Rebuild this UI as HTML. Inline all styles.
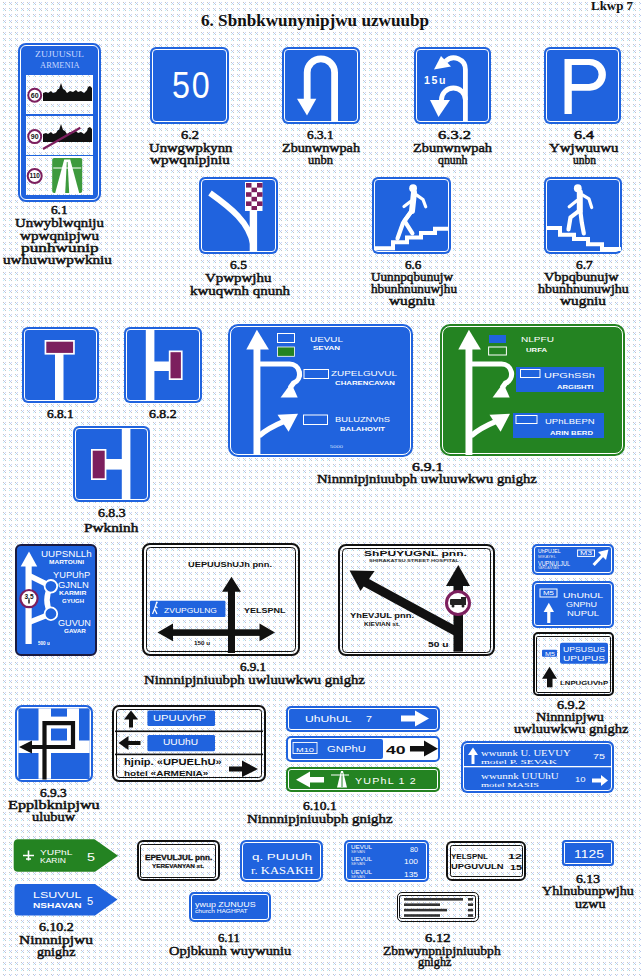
<!DOCTYPE html>
<html><head><meta charset="utf-8"><title>signs</title><style>
html,body{margin:0;padding:0;background:#fff;overflow:hidden;width:641px;height:976px;}
#pg{position:relative;width:641px;height:976px;overflow:hidden;background:#fff;}
.a{position:absolute;}
.t{position:absolute;white-space:nowrap;line-height:1;transform-origin:0 0;}
#t0{transform:scaleX(1.2113)}
#t1{transform:scaleX(1.0604)}
#t2{transform:scaleX(0.8596)}
#t3{transform:scaleX(1.0582)}
#t4{transform:scaleX(1.4137)}
#t5{transform:scaleX(1.3344)}
#t6{transform:scaleX(1.4137)}
#t7{transform:scaleX(1.3008)}
#t8{transform:scaleX(1.3338)}
#t9{transform:scaleX(1.2857)}
#t10{transform:scaleX(1.4596)}
#t11{transform:scaleX(1.4334)}
#t12{transform:scaleX(1.2849)}
#t13{transform:scaleX(1.5791)}
#t14{transform:scaleX(1.2660)}
#t15{transform:scaleX(1.3560)}
#t16{transform:scaleX(1.2896)}
#t17{transform:scaleX(1.1562)}
#t18{transform:scaleX(1.1846)}
#t19{transform:scaleX(1.0907)}
#t20{transform:scaleX(1.1085)}
#t21{transform:scaleX(1.2455)}
#t22{transform:scaleX(1.0906)}
#t23{transform:scaleX(1.0716)}
#t24{transform:scaleX(1.1498)}
#t25{transform:scaleX(0.9143)}
#t26{transform:scaleX(1.2367)}
#t27{transform:scaleX(1.0643)}
#t28{transform:scaleX(1.2881)}
#t29{transform:scaleX(1.3894)}
#t30{transform:scaleX(1.6070)}
#t31{transform:scaleX(1.6107)}
#t32{transform:scaleX(1.1643)}
#t33{transform:scaleX(1.1862)}
#t34{transform:scaleX(1.3586)}
#t35{transform:scaleX(0.9356)}
#t36{transform:scaleX(1.4066)}
#t37{transform:scaleX(0.8435)}
#t38{transform:scaleX(1.1352)}
#t39{transform:scaleX(1.5706)}
#t40{transform:scaleX(1.3184)}
#t41{transform:scaleX(1.3975)}
#t42{transform:scaleX(1.2850)}
#t43{transform:scaleX(1.3483)}
#t44{transform:scaleX(1.3088)}
#t45{transform:scaleX(1.2410)}
#t46{transform:scaleX(1.4390)}
#t47{transform:scaleX(1.2995)}
#t48{transform:scaleX(1.2466)}
#t49{transform:scaleX(1.1285)}
#t50{transform:scaleX(1.3106)}
#t51{transform:scaleX(1.2477)}
#t52{transform:scaleX(1.3472)}
#t53{transform:scaleX(1.1963)}
#t54{transform:scaleX(1.5422)}
#t55{transform:scaleX(1.2574)}
#t56{transform:scaleX(1.6000)}
#t57{transform:scaleX(1.1877)}
#t58{transform:scaleX(1.3323)}
#t59{transform:scaleX(1.6257)}
#t60{transform:scaleX(1.3474)}
#t61{transform:scaleX(1.3728)}
#t62{transform:scaleX(1.4836)}
#t63{transform:scaleX(1.3595)}
#t64{transform:scaleX(1.3633)}
#t65{transform:scaleX(1.3082)}
#t66{transform:scaleX(1.4382)}
#t67{transform:scaleX(1.3851)}
#t68{transform:scaleX(1.2638)}
#t69{transform:scaleX(1.1146)}
#t70{transform:scaleX(1.0847)}
#t71{transform:scaleX(1.0535)}
#t72{transform:scaleX(1.4809)}
#t73{transform:scaleX(1.2618)}
#t74{transform:scaleX(1.3753)}
#t75{transform:scaleX(1.2006)}
#t76{transform:scaleX(1.3985)}
#t77{transform:scaleX(1.2059)}
#t78{transform:scaleX(1.3985)}
#t79{transform:scaleX(1.2059)}
#t80{transform:scaleX(1.3985)}
#t81{transform:scaleX(1.2059)}
#t82{transform:scaleX(0.9588)}
#t83{transform:scaleX(1.1186)}
#t84{transform:scaleX(1.1186)}
#t85{transform:scaleX(1.0696)}
#t86{transform:scaleX(1.6779)}
#t87{transform:scaleX(1.1695)}
#t88{transform:scaleX(1.4382)}
#t89{transform:scaleX(1.3234)}
#t90{transform:scaleX(1.0378)}
#t91{transform:scaleX(1.1255)}
#t92{transform:scaleX(1.1478)}
#t93{transform:scaleX(1.0975)}
#t94{transform:scaleX(1.1220)}
#t95{transform:scaleX(1.2790)}
#t96{transform:scaleX(1.1256)}
#t97{transform:scaleX(1.2591)}
#t98{transform:scaleX(1.0902)}
#t99{transform:scaleX(1.1184)}
#t100{transform:scaleX(1.1522)}
#t101{transform:scaleX(1.0505)}
#t102{transform:scaleX(0.9259)}
#t103{transform:scaleX(1.4391)}
#t104{transform:scaleX(1.0640)}
#t105{transform:scaleX(0.8711)}
#t106{transform:scaleX(1.3843)}
#t107{transform:scaleX(1.1032)}
#t108{transform:scaleX(0.8519)}
#t109{transform:scaleX(1.1757)}
#t110{transform:scaleX(1.1067)}
#t111{transform:scaleX(1.1076)}
#t112{transform:scaleX(1.1409)}
#t113{transform:scaleX(0.9762)}
#t114{transform:scaleX(0.9801)}
#t115{transform:scaleX(1.1358)}
#t116{transform:scaleX(1.1617)}
#t117{transform:scaleX(1.0596)}
#t118{transform:scaleX(1.0348)}
#t119{transform:scaleX(1.1358)}
#t120{transform:scaleX(1.1565)}
#t121{transform:scaleX(1.2000)}
#t122{transform:scaleX(1.2000)}
#t123{transform:scaleX(1.1330)}
#t124{transform:scaleX(1.3565)}
#t125{transform:scaleX(1.0854)}
#t126{transform:scaleX(1.1348)}
#t127{transform:scaleX(1.0909)}
#t128{transform:scaleX(1.1652)}
#t129{transform:scaleX(1.1987)}
#t130{transform:scaleX(1.0642)}
#t131{transform:scaleX(1.1722)}
#t132{transform:scaleX(1.0992)}
#t133{transform:scaleX(1.2261)}
#t134{transform:scaleX(1.0525)}
#t135{transform:scaleX(1.0713)}
#t136{transform:scaleX(1.2070)}
#t137{transform:scaleX(1.1470)}
#t138{transform:scaleX(1.0449)}
#t139{transform:scaleX(1.1064)}
#t140{transform:scaleX(1.0693)}
#t141{transform:scaleX(1.2621)}
#t142{transform:scaleX(1.0060)}
#t143{transform:scaleX(0.9116)}
#t144{transform:scaleX(1.1925)}
#t145{transform:scaleX(1.0462)}
#t146{transform:scaleX(1.0462)}
</style></head>
<body><div id="pg"><svg class="a" style="left:0;top:0" width="641" height="976"><defs><pattern id="dp" width="6" height="6" patternUnits="userSpaceOnUse" x="1" y="0"><rect x="2" y="2" width="1" height="1" fill="#c4c4c4"/><rect x="4" y="2" width="1" height="1" fill="#c8d8ff"/><rect x="3" y="3" width="1" height="1" fill="#b8c8f0"/><rect x="2" y="4" width="1" height="1" fill="#c0f4ff"/><rect x="4" y="4" width="1" height="1" fill="#c4c4c4"/></pattern><pattern id="dp2" width="12" height="12" patternUnits="userSpaceOnUse" x="1" y="0"><rect x="9" y="8" width="1" height="1" fill="#c4c4c4"/><rect x="3" y="14" width="1" height="1" fill="#c4c4c4"/></pattern></defs><rect width="641" height="976" fill="url(#dp)"/></svg>
<div class="a" style="left:18px;top:43px;width:83px;height:159px;background:#2063de;border-radius:8px"></div>
<div class="a" style="left:20px;top:45px;width:79px;height:155px;border:1px solid #fff;border-radius:6px;box-sizing:border-box"></div>
<div class="a" style="left:26px;top:75px;width:67px;height:120px;background:#fff"></div>
<svg class="a" style="left:0;top:0" width="641" height="976"><rect x="26" y="75" width="67" height="120" fill="url(#dp)"/></svg>
<div class="a" style="left:26px;top:114px;width:67px;height:1.5px;background:#2063de"></div>
<div class="a" style="left:26px;top:154.5px;width:67px;height:1.5px;background:#2063de"></div>
<div class="t" id="t0" style="left:35px;top:51.30px;font-family:'Liberation Serif', serif;font-size:8px;font-weight:normal;color:#c8d8ff;letter-spacing:0px;">ZUJUUSUL</div>
<div class="t" id="t1" style="left:40px;top:61.50px;font-family:'Liberation Serif', serif;font-size:8px;font-weight:normal;color:#c8d8ff;letter-spacing:0px;">ARMENIA</div>
<svg class="a" style="left:18px;top:43px" width="83" height="159" viewBox="0 0 83 159"><circle cx="16.7" cy="52.2" r="6.5" fill="#fff" stroke="#7c1f5e" stroke-width="2"/><text x="16.7" y="54.720000000000006" font-family="Liberation Sans" font-weight="bold" font-size="7" text-anchor="middle" fill="#111">60</text><g transform="translate(25,44)"><path d="M0,6 L3,5 L5,6 L8,4 L10,6 L13,5 L15,2 L16,2 L17,-1 L18,-4 L19,-1 L20,2 L22,3 L24,6 L27,4 L30,5 L33,3 L35,5 L38,4 L41,6 L44,3 L45,0 L47,-1 L49,1 L49,14 L0,14 Z" fill="#111"/></g><circle cx="16.7" cy="93.6" r="6.5" fill="#fff" stroke="#7c1f5e" stroke-width="2"/><text x="16.7" y="96.11999999999999" font-family="Liberation Sans" font-weight="bold" font-size="7" text-anchor="middle" fill="#111">90</text><g transform="translate(25,85)"><path d="M0,6 L3,5 L5,6 L8,4 L10,6 L13,5 L15,2 L16,2 L17,-1 L18,-4 L19,-1 L20,2 L22,3 L24,6 L27,4 L30,5 L33,3 L35,5 L38,4 L41,6 L44,3 L45,0 L47,-1 L49,1 L49,14 L0,14 Z" fill="#111"/></g><line x1="25" y1="106" x2="62.3" y2="84.7" stroke="#7c1f5e" stroke-width="2.2"/><circle cx="16.7" cy="133" r="7" fill="#fff" stroke="#7c1f5e" stroke-width="2"/><text x="16.7" y="135.34" font-family="Liberation Sans" font-weight="bold" font-size="6.5" text-anchor="middle" fill="#111">110</text><g transform="translate(34.2,115)"><rect x="0" y="0" width="30" height="35" rx="2" fill="#3d9a3d"/><path d="M12,1.5 L18,1.5 L27,35 L3,35 Z" fill="#fff"/><path d="M14.6,4 L15.4,4 L17,35 L13,35 Z" fill="#3d9a3d"/><rect x="1" y="9.5" width="28" height="1" fill="#fff"/></g></svg>
<div class="a" style="left:150px;top:47px;width:79px;height:77px;background:#2063de;border-radius:6px"></div>
<div class="a" style="left:152px;top:49px;width:75px;height:73px;border:1px solid #fff;border-radius:4px;box-sizing:border-box"></div>
<div class="t" id="t2" style="left:171.7px;top:67.46px;font-family:'Liberation Sans', sans-serif;font-size:37.5px;font-weight:normal;color:#fff;letter-spacing:2px;">50</div>
<div class="a" style="left:282px;top:47px;width:78px;height:77px;background:#2063de;border-radius:6px"></div>
<div class="a" style="left:284px;top:49px;width:74px;height:73px;border:1px solid #fff;border-radius:4px;box-sizing:border-box"></div>
<svg class="a" style="left:282px;top:47px" width="78" height="77" viewBox="0 0 78 77"><path d="M52.6,75 V25.5 A13.7,13.7 0 0 0 25.2,25.5 V53" fill="none" stroke="#fff" stroke-width="6.8"/><polygon points="15,51.7 34.3,51.7 25,68.5" fill="#fff"/></svg>
<div class="a" style="left:414px;top:47px;width:77px;height:77px;background:#2063de;border-radius:6px"></div>
<div class="a" style="left:416px;top:49px;width:73px;height:73px;border:1px solid #fff;border-radius:4px;box-sizing:border-box"></div>
<svg class="a" style="left:414px;top:47px" width="77" height="77" viewBox="0 0 77 77"><path d="M51.4,75 V22.5 A11.6,11.6 0 0 0 31.6,14.3" fill="none" stroke="#fff" stroke-width="4.8"/><polygon points="20,22.5 27,9 37,19.5" fill="#fff"/><path d="M51.4,53 A12,12 0 0 0 27.4,53 V55" fill="none" stroke="#fff" stroke-width="4.8"/><polygon points="16,53 36,53 24.5,70" fill="#fff"/></svg>
<div class="t" id="t3" style="left:424px;top:75.83px;font-family:'Liberation Sans', sans-serif;font-size:10px;font-weight:bold;color:#fff;letter-spacing:1.5px;">15u</div>
<div class="a" style="left:544px;top:47px;width:77px;height:77px;background:#2063de;border-radius:6px"></div>
<div class="a" style="left:546px;top:49px;width:73px;height:73px;border:1px solid #fff;border-radius:4px;box-sizing:border-box"></div>
<svg class="a" style="left:544px;top:47px" width="77" height="77" viewBox="0 0 77 77"><path fill-rule="evenodd" fill="#fff" d="M20.5,67 V11.9 H46 A15.9,15.9 0 0 1 46,43.7 H27.8 V67 Z M27.8,17.9 V37.1 H45 A9.6,9.6 0 0 0 45,17.9 Z"/></svg>
<div class="a" style="left:199px;top:177px;width:79px;height:77px;background:#2063de;border-radius:6px"></div>
<div class="a" style="left:201px;top:179px;width:75px;height:73px;border:1px solid #fff;border-radius:4px;box-sizing:border-box"></div>
<svg class="a" style="left:199px;top:177px" width="79" height="77" viewBox="0 0 79 77"><rect x="46" y="5" width="17.5" height="29" fill="#fff"/><rect x="47.0" y="6.0" width="5.5" height="4.6" fill="#7c1f5e"/><rect x="58.0" y="6.0" width="5.5" height="4.6" fill="#7c1f5e"/><rect x="52.5" y="10.6" width="5.5" height="4.6" fill="#7c1f5e"/><rect x="47.0" y="15.2" width="5.5" height="4.6" fill="#7c1f5e"/><rect x="58.0" y="15.2" width="5.5" height="4.6" fill="#7c1f5e"/><rect x="52.5" y="19.799999999999997" width="5.5" height="4.6" fill="#7c1f5e"/><rect x="47.0" y="24.4" width="5.5" height="4.6" fill="#7c1f5e"/><rect x="58.0" y="24.4" width="5.5" height="4.6" fill="#7c1f5e"/><rect x="52.5" y="29.0" width="5.5" height="4.6" fill="#7c1f5e"/><path d="M54.4,33 V75" stroke="#fff" stroke-width="7.4" fill="none"/><path d="M11,16 C32,31 50,45 54.4,68" stroke="#fff" stroke-width="6" fill="none"/></svg>
<div class="a" style="left:372px;top:177px;width:79px;height:77px;background:#2063de;border-radius:6px"></div>
<div class="a" style="left:374px;top:179px;width:75px;height:73px;border:1px solid #fff;border-radius:4px;box-sizing:border-box"></div>
<svg class="a" style="left:372px;top:177px" width="79" height="77" viewBox="0 0 79 77"><path d="M2,71.3 H21 V65.3 H35 V60.6 H49 V56 H63 V51.7 H77" stroke="#fff" stroke-width="4" fill="none"/><circle cx="41.1" cy="11.2" r="3.9" fill="#fff"/><path d="M42,15.5 L40,34" stroke="#fff" stroke-width="6" stroke-linecap="round"/><path d="M44.4,17.9 L51,22.5 L53.7,29.8" stroke="#fff" stroke-width="3.2" fill="none" stroke-linecap="round" stroke-linejoin="round"/><path d="M38.5,24.5 L32,29.5" stroke="#fff" stroke-width="3.2" fill="none" stroke-linecap="round" stroke-linejoin="round"/><path d="M39.5,34 L32.5,43.8 L40.4,56.4" stroke="#fff" stroke-width="4.2" fill="none" stroke-linecap="round" stroke-linejoin="round"/><path d="M39,35 L31,46 L25.5,61.5" stroke="#fff" stroke-width="4.2" fill="none" stroke-linecap="round" stroke-linejoin="round"/></svg>
<div class="a" style="left:544px;top:177px;width:78px;height:77px;background:#2063de;border-radius:6px"></div>
<div class="a" style="left:546px;top:179px;width:74px;height:73px;border:1px solid #fff;border-radius:4px;box-sizing:border-box"></div>
<svg class="a" style="left:544px;top:177px" width="78" height="77" viewBox="0 0 78 77"><path d="M2,51 H16 V57.7 H30 V62 H44 V67.3 H58 V72 H77" stroke="#fff" stroke-width="4" fill="none"/><circle cx="33.8" cy="11.2" r="3.9" fill="#fff"/><path d="M35.8,15.2 L35.8,33.8" stroke="#fff" stroke-width="6" stroke-linecap="round"/><path d="M38.4,17.9 L45,21.9 L47.7,30.5" stroke="#fff" stroke-width="3.2" fill="none" stroke-linecap="round" stroke-linejoin="round"/><path d="M33,23.5 L25.2,29.8" stroke="#fff" stroke-width="3.2" fill="none" stroke-linecap="round" stroke-linejoin="round"/><path d="M36.4,34.5 L37.8,45.7 L39.8,56.4" stroke="#fff" stroke-width="4.2" fill="none" stroke-linecap="round" stroke-linejoin="round"/><path d="M35,33.8 L26.5,40.4 L24.5,52.4" stroke="#fff" stroke-width="4.2" fill="none" stroke-linecap="round" stroke-linejoin="round"/></svg>
<div class="a" style="left:22px;top:327px;width:77px;height:76px;background:#2063de;border-radius:6px"></div>
<div class="a" style="left:24px;top:329px;width:73px;height:72px;border:1px solid #fff;border-radius:4px;box-sizing:border-box"></div>
<svg class="a" style="left:22px;top:327px" width="77" height="76" viewBox="0 0 77 76"><rect x="33" y="26" width="8.5" height="48" fill="#fff"/><rect x="22.6" y="13" width="30.2" height="14.6" fill="#fff"/><rect x="24.3" y="14.7" width="26.8" height="11.2" fill="#7c1f5e"/></svg>
<div class="a" style="left:124px;top:327px;width:78px;height:76px;background:#2063de;border-radius:6px"></div>
<div class="a" style="left:126px;top:329px;width:74px;height:72px;border:1px solid #fff;border-radius:4px;box-sizing:border-box"></div>
<svg class="a" style="left:124px;top:327px" width="78" height="76" viewBox="0 0 78 76"><rect x="21.8" y="2" width="8.6" height="72" fill="#fff"/><rect x="30" y="34.5" width="16" height="9.5" fill="#fff"/><rect x="44.8" y="23.5" width="13.8" height="29.5" fill="#fff"/><rect x="46.5" y="25.2" width="10.4" height="26.1" fill="#7c1f5e"/></svg>
<div class="a" style="left:73px;top:426px;width:77px;height:76px;background:#2063de;border-radius:6px"></div>
<div class="a" style="left:75px;top:428px;width:73px;height:72px;border:1px solid #fff;border-radius:4px;box-sizing:border-box"></div>
<svg class="a" style="left:73px;top:426px" width="77" height="76" viewBox="0 0 77 76"><rect x="48.8" y="2" width="8.6" height="72" fill="#fff"/><rect x="32" y="33" width="17" height="10.6" fill="#fff"/><rect x="18" y="23" width="15.4" height="31" fill="#fff"/><rect x="19.7" y="24.7" width="12" height="27.6" fill="#7c1f5e"/></svg>
<div class="a" style="left:228px;top:324px;width:184.5px;height:132.5px;background:#2063de;border-radius:10px"></div>
<div class="a" style="left:230px;top:326px;width:180.5px;height:128.5px;border:1.3px solid #fff;border-radius:8px;box-sizing:border-box"></div>
<svg class="a" style="left:228px;top:324.5px" width="184.5" height="132" viewBox="0 0 184.5 132"><polygon points="18.3,24.5 28.9,4.7 40.9,24.5" fill="#fff"/><rect x="25.5" y="24" width="6.9" height="106" fill="#fff"/><path d="M29,39 H61.5 A10,10 0 0 1 65.5,58.2 L62,63" fill="none" stroke="#fff" stroke-width="5.2"/><polygon points="52.6,72.5 69.7,72.5 63.2,57.9" fill="#fff"/><path d="M31,111 Q40,103 57,96" fill="none" stroke="#fff" stroke-width="5.2"/><polygon points="49.5,89.7 70,88.8 60.6,106.8" fill="#fff"/><rect x="49.5" y="8.5" width="17" height="9" fill="none" stroke="#fff" stroke-width="1"/><rect x="49.5" y="22" width="17" height="9.3" fill="#248322" stroke="#fff" stroke-width="0.8"/><rect x="76" y="44.5" width="24.5" height="9" fill="none" stroke="#fff" stroke-width="1"/><rect x="75.5" y="90" width="24" height="9.5" fill="none" stroke="#fff" stroke-width="1"/></svg>
<div class="t" id="t4" style="left:310px;top:336.07px;font-family:'Liberation Sans', sans-serif;font-size:7px;font-weight:normal;color:#fff;letter-spacing:0px;">UEVUL</div>
<div class="t" id="t5" style="left:313px;top:345.42px;font-family:'Liberation Sans', sans-serif;font-size:6px;font-weight:bold;color:#fff;letter-spacing:0px;">SEVAN</div>
<div class="t" id="t6" style="left:331px;top:370.07px;font-family:'Liberation Sans', sans-serif;font-size:7px;font-weight:normal;color:#fff;letter-spacing:0px;">ZUPELGUVUL</div>
<div class="t" id="t7" style="left:335px;top:380.42px;font-family:'Liberation Sans', sans-serif;font-size:6px;font-weight:bold;color:#fff;letter-spacing:0px;">CHARENCAVAN</div>
<div class="t" id="t8" style="left:335px;top:415.57px;font-family:'Liberation Sans', sans-serif;font-size:7px;font-weight:normal;color:#fff;letter-spacing:0px;">BULUZNVhS</div>
<div class="t" id="t9" style="left:340px;top:426.42px;font-family:'Liberation Sans', sans-serif;font-size:6px;font-weight:bold;color:#fff;letter-spacing:0px;">BALAHOVIT</div>
<div class="t" id="t10" style="left:330px;top:444.61px;font-family:'Liberation Sans', sans-serif;font-size:4px;font-weight:normal;color:#cfe0ff;letter-spacing:0px;">5000</div>
<div class="a" style="left:440px;top:324px;width:184.6px;height:132px;background:#248322;border-radius:10px"></div>
<div class="a" style="left:442px;top:326px;width:180.6px;height:128px;border:1.3px solid #fff;border-radius:8px;box-sizing:border-box"></div>
<svg class="a" style="left:440px;top:324.5px" width="184.6" height="131.5" viewBox="0 0 184.6 131.5"><polygon points="18.3,24.5 28.9,4.7 40.9,24.5" fill="#fff"/><rect x="25.5" y="24" width="6.9" height="106" fill="#fff"/><path d="M29,39 H61.5 A10,10 0 0 1 65.5,58.2 L62,63" fill="none" stroke="#fff" stroke-width="5.2"/><polygon points="52.6,72.5 69.7,72.5 63.2,57.9" fill="#fff"/><path d="M31,111 Q40,103 57,96" fill="none" stroke="#fff" stroke-width="5.2"/><polygon points="49.5,89.7 70,88.8 60.6,106.8" fill="#fff"/><rect x="49" y="10" width="17" height="8" fill="#2063de"/><rect x="48.6" y="22" width="17.8" height="8" fill="none" stroke="#fff" stroke-width="1"/><rect x="76" y="42" width="88" height="25" fill="#2063de"/><rect x="80.5" y="44.5" width="19.5" height="8" fill="none" stroke="#fff" stroke-width="1"/><rect x="73" y="88" width="91" height="25" fill="#2063de"/><rect x="76" y="90.5" width="21" height="8" fill="none" stroke="#fff" stroke-width="1"/></svg>
<div class="t" id="t11" style="left:520.5px;top:336.07px;font-family:'Liberation Sans', sans-serif;font-size:7px;font-weight:normal;color:#fff;letter-spacing:0px;">NLPFU</div>
<div class="t" id="t12" style="left:526px;top:346.92px;font-family:'Liberation Sans', sans-serif;font-size:6px;font-weight:bold;color:#fff;letter-spacing:0px;">URFA</div>
<div class="t" id="t13" style="left:543.6px;top:372.07px;font-family:'Liberation Sans', sans-serif;font-size:7px;font-weight:normal;color:#fff;letter-spacing:0px;">UPGhSSh</div>
<div class="t" id="t14" style="left:556.7px;top:383.92px;font-family:'Liberation Sans', sans-serif;font-size:6px;font-weight:bold;color:#fff;letter-spacing:0px;">ARGISHTI</div>
<div class="t" id="t15" style="left:545px;top:418.07px;font-family:'Liberation Sans', sans-serif;font-size:7px;font-weight:normal;color:#fff;letter-spacing:0px;">UPhLBEPN</div>
<div class="t" id="t16" style="left:550px;top:429.92px;font-family:'Liberation Sans', sans-serif;font-size:6px;font-weight:bold;color:#fff;letter-spacing:0px;">ARIN BERD</div>
<div class="a" style="left:14.5px;top:543.7px;width:82.5px;height:112.5px;background:#2063de;border:2px solid #1a1a40;border-radius:6px;box-sizing:border-box"></div>
<svg class="a" style="left:14.5px;top:543.7px" width="82.5" height="112.5" viewBox="0 0 82.5 112.5"><polygon points="5.7,22.4 14,7.5 22.2,22.4" fill="#fff"/><rect x="10.5" y="22" width="6.2" height="78" fill="#fff"/><path d="M15,32 L35.9,42.3 Q28,56 35.9,69.75 L15,78" fill="none" stroke="#fff" stroke-width="5.5" stroke-linejoin="round"/><circle cx="35.9" cy="42.3" r="6.3" fill="#2063de" stroke="#fff" stroke-width="1.8"/><circle cx="35.9" cy="69.75" r="6.3" fill="#2063de" stroke="#fff" stroke-width="1.8"/><circle cx="14" cy="54.6" r="8.6" fill="#fff" stroke="#7c1f5e" stroke-width="2.2"/><text x="14" y="55" font-family="Liberation Sans" font-weight="bold" font-size="6.5" text-anchor="middle" fill="#111">3,5</text><rect x="13.3" y="55.5" width="1.4" height="4" fill="#111"/></svg>
<div class="t" id="t17" style="left:40.8px;top:550.00px;font-family:'Liberation Sans', sans-serif;font-size:8.5px;font-weight:normal;color:#fff;letter-spacing:0px;">UUPSNLLh</div>
<div class="t" id="t18" style="left:49.1px;top:560.04px;font-family:'Liberation Sans', sans-serif;font-size:5.5px;font-weight:bold;color:#fff;letter-spacing:0px;">MARTOUNI</div>
<div class="t" id="t19" style="left:53.2px;top:570.50px;font-family:'Liberation Sans', sans-serif;font-size:8.5px;font-weight:normal;color:#fff;letter-spacing:0px;">YUPUhP</div>
<div class="t" id="t20" style="left:58.0px;top:580.90px;font-family:'Liberation Sans', sans-serif;font-size:8.5px;font-weight:normal;color:#fff;letter-spacing:0px;">GJNLN</div>
<div class="t" id="t21" style="left:59.4px;top:591.04px;font-family:'Liberation Sans', sans-serif;font-size:5.5px;font-weight:bold;color:#fff;letter-spacing:0px;">KARMIR</div>
<div class="t" id="t22" style="left:62.1px;top:598.54px;font-family:'Liberation Sans', sans-serif;font-size:5.5px;font-weight:bold;color:#fff;letter-spacing:0px;">GYUGH</div>
<div class="t" id="t23" style="left:58.0px;top:618.60px;font-family:'Liberation Sans', sans-serif;font-size:8.5px;font-weight:normal;color:#fff;letter-spacing:0px;">GUVUN</div>
<div class="t" id="t24" style="left:64.2px;top:629.34px;font-family:'Liberation Sans', sans-serif;font-size:5.5px;font-weight:bold;color:#fff;letter-spacing:0px;">GAVAR</div>
<div class="t" id="t25" style="left:38.1px;top:640.77px;font-family:'Liberation Sans', sans-serif;font-size:5px;font-weight:bold;color:#fff;letter-spacing:0px;">500 u</div>
<div class="a" style="left:142px;top:543.3px;width:157.5px;height:112.7px;border:2.2px solid #111;border-radius:8px;box-sizing:border-box"></div>
<div class="a" style="left:145.7px;top:547.0px;width:150.1px;height:105.3px;border:1.5px solid #111;border-radius:4.3px;box-sizing:border-box"></div>
<svg class="a" style="left:142px;top:543.3px" width="157.5" height="112.7" viewBox="0 0 157.5 112.7"><rect x="86" y="46" width="7" height="64" fill="#111"/><polygon points="80,48.7 89.5,33.7 99,48.7" fill="#111"/><rect x="29" y="86.3" width="90" height="6.6" fill="#111"/><polygon points="15.5,89.6 31,80.4 31,98.2" fill="#111"/><polygon points="133,89.6 117.5,80.4 117.5,98.2" fill="#111"/><rect x="8" y="57.7" width="75.4" height="16.4" fill="#2063de" rx="1"/><path d="M14.5,60 L12.5,66 L10.5,71 M12.5,66 L15,71 M13,63 L15.5,65" stroke="#fff" stroke-width="1.2" fill="none"/><circle cx="14.8" cy="59.5" r="1" fill="#fff"/></svg>
<div class="t" id="t26" style="left:188px;top:560.65px;font-family:'Liberation Sans', sans-serif;font-size:7.5px;font-weight:bold;color:#111;letter-spacing:0px;">UEPUUShUJh pnn.</div>
<div class="t" id="t27" style="left:164px;top:607.23px;font-family:'Liberation Sans', sans-serif;font-size:8px;font-weight:normal;color:#fff;letter-spacing:0px;">ZVUPGULNG</div>
<div class="t" id="t28" style="left:244px;top:607.07px;font-family:'Liberation Sans', sans-serif;font-size:7px;font-weight:bold;color:#111;letter-spacing:0px;">YELSPNL</div>
<div class="t" id="t29" style="left:194px;top:642.19px;font-family:'Liberation Sans', sans-serif;font-size:4.5px;font-weight:bold;color:#111;letter-spacing:0px;">150 u</div>
<div class="a" style="left:338px;top:544px;width:156.7px;height:112.4px;border:2.2px solid #111;border-radius:8px;box-sizing:border-box"></div>
<div class="a" style="left:341.7px;top:547.7px;width:149.29999999999998px;height:105.0px;border:1.5px solid #111;border-radius:4.3px;box-sizing:border-box"></div>
<svg class="a" style="left:338px;top:544px" width="156.7" height="112.4" viewBox="0 0 156.7 112.4"><rect x="115.5" y="40" width="9.5" height="67.7" fill="#111"/><polygon points="108,42 120.3,21 132,42" fill="#111"/><path d="M121,89 L27,38" stroke="#111" stroke-width="9" fill="none"/><polygon points="11.6,26.6 36.6,27 22.5,47" fill="#111"/><circle cx="120" cy="59" r="11.5" fill="#fff" stroke="#7c1f5e" stroke-width="3"/><rect x="112" y="55" width="13" height="6" fill="#222" rx="1"/><rect x="123" y="53" width="5" height="8" fill="#222"/><circle cx="115" cy="62" r="1.5" fill="#222"/><circle cx="125" cy="62" r="1.5" fill="#222"/></svg>
<div class="t" id="t30" style="left:363.7px;top:550.15px;font-family:'Liberation Sans', sans-serif;font-size:7.5px;font-weight:bold;color:#111;letter-spacing:0px;">ShPUYUGNL pnn.</div>
<div class="t" id="t31" style="left:369px;top:559.84px;font-family:'Liberation Sans', sans-serif;font-size:3.5px;font-weight:bold;color:#333;letter-spacing:0px;">SHIRAKATSU STREET HOSPITAL</div>
<div class="t" id="t32" style="left:349.6px;top:612.23px;font-family:'Liberation Sans', sans-serif;font-size:8px;font-weight:bold;color:#111;letter-spacing:0px;">YhEVJUL pnn.</div>
<div class="t" id="t33" style="left:363.7px;top:622.04px;font-family:'Liberation Sans', sans-serif;font-size:5.5px;font-weight:bold;color:#111;letter-spacing:0px;">KIEVIAN st.</div>
<div class="t" id="t34" style="left:427.6px;top:640.65px;font-family:'Liberation Sans', sans-serif;font-size:7.5px;font-weight:bold;color:#111;letter-spacing:0px;">50 u</div>
<div class="a" style="left:532px;top:544px;width:82px;height:31.3px;background:#2063de;border-radius:5px"></div>
<div class="a" style="left:534px;top:546px;width:78px;height:27.3px;border:1px solid #fff;border-radius:3px;box-sizing:border-box"></div>
<svg class="a" style="left:532px;top:544px" width="82" height="31.3" viewBox="0 0 82 31.3"><rect x="45.6" y="6" width="16.9" height="6.4" fill="none" stroke="#fff" stroke-width="1"/><path d="M61.6,21 L72,10" stroke="#fff" stroke-width="3"/><polygon points="76.5,5.5 66,8 74,16" fill="#fff"/></svg>
<div class="t" id="t35" style="left:538px;top:548.94px;font-family:'Liberation Sans', sans-serif;font-size:5.5px;font-weight:normal;color:#fff;letter-spacing:0px;">UhPUJEL</div>
<div class="t" id="t36" style="left:538px;top:556.26px;font-family:'Liberation Sans', sans-serif;font-size:3px;font-weight:normal;color:#dde;letter-spacing:0px;">MIKAYEL</div>
<div class="t" id="t37" style="left:538px;top:560.50px;font-family:'Liberation Sans', sans-serif;font-size:6.5px;font-weight:normal;color:#fff;letter-spacing:0px;">VUPNULJUL</div>
<div class="t" id="t38" style="left:538px;top:567.46px;font-family:'Liberation Sans', sans-serif;font-size:3px;font-weight:normal;color:#dde;letter-spacing:0px;">VARDANYAN</div>
<div class="t" id="t39" style="left:580px;top:551.34px;font-family:'Liberation Sans', sans-serif;font-size:5.5px;font-weight:normal;color:#fff;letter-spacing:0px;">M3</div>
<div class="a" style="left:532px;top:581px;width:82.4px;height:47px;background:#2063de;border-radius:5px"></div>
<div class="a" style="left:534px;top:583px;width:78.4px;height:43px;border:1px solid #fff;border-radius:3px;box-sizing:border-box"></div>
<svg class="a" style="left:532px;top:581px" width="82.4" height="47" viewBox="0 0 82.4 47"><rect x="8" y="8" width="17" height="8" fill="none" stroke="#fff" stroke-width="1"/><polygon points="11.6,31 16.8,21.7 22,31" fill="#fff"/><rect x="15.2" y="30" width="3.2" height="12" fill="#fff"/></svg>
<div class="t" id="t40" style="left:543px;top:590.42px;font-family:'Liberation Sans', sans-serif;font-size:6px;font-weight:normal;color:#fff;letter-spacing:0px;">M5</div>
<div class="t" id="t41" style="left:562.5px;top:591.65px;font-family:'Liberation Sans', sans-serif;font-size:7.5px;font-weight:normal;color:#fff;letter-spacing:0px;">UhUhUL</div>
<div class="t" id="t42" style="left:566px;top:601.07px;font-family:'Liberation Sans', sans-serif;font-size:7px;font-weight:normal;color:#fff;letter-spacing:0px;">GNPhU</div>
<div class="t" id="t43" style="left:567px;top:610.07px;font-family:'Liberation Sans', sans-serif;font-size:7px;font-weight:normal;color:#fff;letter-spacing:0px;">NUPUL</div>
<div class="a" style="left:533px;top:632.3px;width:81.3px;height:63.4px;border:2px solid #111;border-radius:5px;box-sizing:border-box"></div>
<div class="a" style="left:536.2px;top:635.5px;width:74.89999999999999px;height:57.0px;border:1px solid #111;border-radius:1.7999999999999998px;box-sizing:border-box"></div>
<svg class="a" style="left:533px;top:632.3px" width="81.3" height="63.4" viewBox="0 0 81.3 63.4"><rect x="9" y="17.7" width="15" height="7" fill="#2063de" rx="1"/><rect x="27" y="10.7" width="48" height="21" fill="#2063de" rx="2"/><polygon points="9,46.7 16.5,34.7 24,46.7" fill="#111"/><rect x="14" y="46" width="5.5" height="9.3" fill="#111"/></svg>
<div class="t" id="t44" style="left:545px;top:651.84px;font-family:'Liberation Sans', sans-serif;font-size:5.5px;font-weight:normal;color:#fff;letter-spacing:0px;">M5</div>
<div class="t" id="t45" style="left:563px;top:646.07px;font-family:'Liberation Sans', sans-serif;font-size:7px;font-weight:normal;color:#fff;letter-spacing:0px;">UPSUSUS</div>
<div class="t" id="t46" style="left:563px;top:655.07px;font-family:'Liberation Sans', sans-serif;font-size:7px;font-weight:normal;color:#fff;letter-spacing:0px;">UPUPUS</div>
<div class="t" id="t47" style="left:559.6px;top:679.72px;font-family:'Liberation Sans', sans-serif;font-size:6px;font-weight:bold;color:#111;letter-spacing:0px;">LNPUGUVhP</div>
<div class="a" style="left:15px;top:705px;width:78px;height:77px;background:#2063de;border-radius:7px"></div>
<div class="a" style="left:17px;top:707px;width:74px;height:73px;border:1px solid #fff;border-radius:5px;box-sizing:border-box"></div>
<svg class="a" style="left:15px;top:705px" width="78" height="77" viewBox="0 0 78 77"><rect x="3.2" y="3.2" width="71.6" height="70.6" fill="#fff" rx="4"/><rect x="3.5" y="3.5" width="20.0" height="32.0" fill="#2063de"/><rect x="36" y="3.5" width="16" height="8.1" fill="#2063de"/><rect x="64" y="3.5" width="10.5" height="32.0" fill="#2063de"/><rect x="36" y="23.5" width="16" height="12.0" fill="#2063de"/><rect x="3.5" y="48" width="20.0" height="26" fill="#2063de"/><rect x="36" y="48" width="38.5" height="26" fill="#2063de"/><path d="M29.5,74.6 V18.2 H58 V42 H14" fill="none" stroke="#111" stroke-width="4.2"/><polygon points="4,42 17,35.5 17,48.5" fill="#111"/></svg>
<div class="a" style="left:112px;top:705px;width:154px;height:76.5px;border:2.2px solid #111;border-radius:7px;box-sizing:border-box"></div>
<div class="a" style="left:115.7px;top:708.7px;width:146.6px;height:69.1px;border:1.5px solid #111;border-radius:3.3px;box-sizing:border-box"></div>
<svg class="a" style="left:112px;top:705px" width="154" height="76.5" viewBox="0 0 154 76.5"><rect x="3" y="25.5" width="148" height="1.6" fill="#111"/><rect x="3" y="48.6" width="148" height="1.6" fill="#111"/><rect x="35.4" y="5.4" width="67.6" height="15.6" fill="#2063de" rx="1.5"/><rect x="35.4" y="30" width="67.6" height="16.3" fill="#2063de" rx="1.5"/><polygon points="12,14.5 19,5.5 26,14.5" fill="#111"/><rect x="17" y="14" width="4" height="8.5" fill="#111"/><polygon points="6.5,38 16.5,31 16.5,45" fill="#111"/><rect x="16" y="36" width="12.5" height="4" fill="#111"/><rect x="117" y="61.5" width="15" height="5" fill="#111"/><polygon points="146,64 130,55.5 130,72" fill="#111"/></svg>
<div class="t" id="t48" style="left:153px;top:713.88px;font-family:'Liberation Sans', sans-serif;font-size:9px;font-weight:normal;color:#fff;letter-spacing:0px;">UPUUVhP</div>
<div class="t" id="t49" style="left:163px;top:738.38px;font-family:'Liberation Sans', sans-serif;font-size:9px;font-weight:normal;color:#fff;letter-spacing:0px;">UUUhU</div>
<div class="t" id="t50" style="left:123.7px;top:758.30px;font-family:'Liberation Sans', sans-serif;font-size:8.5px;font-weight:bold;color:#111;letter-spacing:0px;">hjnip. «UPUELhU»</div>
<div class="t" id="t51" style="left:123.7px;top:769.73px;font-family:'Liberation Sans', sans-serif;font-size:8px;font-weight:bold;color:#111;letter-spacing:0px;">hotel «ARMENIA»</div>
<div class="a" style="left:286px;top:706px;width:154px;height:25.5px;background:#2063de;border-radius:5px"></div>
<div class="a" style="left:288px;top:708px;width:150px;height:21.5px;border:1px solid #fff;border-radius:3px;box-sizing:border-box"></div>
<svg class="a" style="left:286px;top:706px" width="154" height="25.5" viewBox="0 0 154 25.5"><rect x="115" y="9.5" width="16" height="6" fill="#fff"/><polygon points="143,12.5 129,4.5 129,20.5" fill="#fff"/></svg>
<div class="t" id="t52" style="left:304.5px;top:715.38px;font-family:'Liberation Sans', sans-serif;font-size:9px;font-weight:normal;color:#fff;letter-spacing:0px;">UhUhUL</div>
<div class="t" id="t53" style="left:366px;top:715.38px;font-family:'Liberation Sans', sans-serif;font-size:9px;font-weight:normal;color:#fff;letter-spacing:0px;">7</div>
<div class="a" style="left:286px;top:735.5px;width:154px;height:26.2px;background:#fff;border:2px solid #2063de;border-radius:5px;box-sizing:border-box"></div>
<div class="a" style="left:290.5px;top:738.5px;width:92.5px;height:20.5px;background:#2063de;border-radius:2px"></div>
<svg class="a" style="left:286px;top:736px" width="154" height="25.2" viewBox="0 0 154 25.2"><rect x="7" y="6.5" width="24" height="11" fill="none" stroke="#fff" stroke-width="0.9"/><rect x="124" y="10" width="16" height="5.5" fill="#111"/><polygon points="152,12.7 138,4.5 138,20.5" fill="#111"/></svg>
<div class="t" id="t54" style="left:296px;top:746.92px;font-family:'Liberation Sans', sans-serif;font-size:6px;font-weight:normal;color:#fff;letter-spacing:0px;">M10</div>
<div class="t" id="t55" style="left:327px;top:744.98px;font-family:'Liberation Sans', sans-serif;font-size:9px;font-weight:normal;color:#fff;letter-spacing:0px;">GNPhU</div>
<div class="t" id="t56" style="left:386px;top:744.69px;font-family:'Liberation Sans', sans-serif;font-size:11px;font-weight:bold;color:#111;letter-spacing:0px;">40</div>
<div class="a" style="left:286px;top:766.8px;width:154px;height:25.4px;background:#248322;border-radius:5px"></div>
<div class="a" style="left:288px;top:768.8px;width:150px;height:21.4px;border:1px solid #fff;border-radius:3px;box-sizing:border-box"></div>
<svg class="a" style="left:286px;top:767px" width="154" height="25.2" viewBox="0 0 154 25.2"><rect x="22" y="10" width="16" height="5.5" fill="#fff"/><polygon points="10,12.7 24,4.5 24,20.5" fill="#fff"/><polygon points="51,20.5 55,4 57,4 61,20.5" fill="#fff"/><rect x="55.5" y="6" width="1" height="14" fill="#25862a"/><rect x="45" y="7.5" width="18" height="1" fill="#fff"/></svg>
<div class="t" id="t57" style="left:355px;top:777.38px;font-family:'Liberation Sans', sans-serif;font-size:9px;font-weight:normal;color:#fff;letter-spacing:1px;">YUPhL 1 2</div>
<div class="a" style="left:461px;top:741.3px;width:153px;height:51.5px;background:#2063de;border-radius:6px"></div>
<div class="a" style="left:463px;top:743.3px;width:149px;height:47.5px;border:1px solid #fff;border-radius:4px;box-sizing:border-box"></div>
<svg class="a" style="left:461px;top:741.3px" width="153" height="51.5" viewBox="0 0 153 51.5"><rect x="3" y="25" width="147" height="1.3" fill="#fff"/><polygon points="7,14 12,6.5 17,14" fill="#fff"/><rect x="10.5" y="13" width="3" height="10" fill="#fff"/><rect x="131" y="37.5" width="11" height="4" fill="#fff"/><polygon points="147,39.5 140,34 140,45" fill="#fff"/></svg>
<div class="t" id="t58" style="left:481px;top:750.30px;font-family:'Liberation Serif', serif;font-size:8px;font-weight:normal;color:#fff;letter-spacing:0px;">wwunnk U. UEVUY</div>
<div class="t" id="t59" style="left:481px;top:758.64px;font-family:'Liberation Serif', serif;font-size:7px;font-weight:normal;color:#fff;letter-spacing:0px;">motel P. SEVAK</div>
<div class="t" id="t60" style="left:593px;top:753.23px;font-family:'Liberation Sans', sans-serif;font-size:8px;font-weight:normal;color:#fff;letter-spacing:0px;">75</div>
<div class="t" id="t61" style="left:481px;top:772.70px;font-family:'Liberation Serif', serif;font-size:8px;font-weight:normal;color:#fff;letter-spacing:0px;">wwunnk UUUhU</div>
<div class="t" id="t62" style="left:481px;top:782.14px;font-family:'Liberation Serif', serif;font-size:7px;font-weight:normal;color:#fff;letter-spacing:0px;">motel MASIS</div>
<div class="t" id="t63" style="left:575px;top:776.07px;font-family:'Liberation Sans', sans-serif;font-size:7px;font-weight:normal;color:#fff;letter-spacing:0px;">10</div>
<svg class="a" style="left:13px;top:839px" width="106" height="33" viewBox="0 0 106 33"><path d="M5,0.3 H81.5 L105,16.8 L82,32.8 H5 Q0.7,32.8 0.7,28.5 V5 Q0.7,0.3 5,0.3 Z" fill="#248322"/><path d="M10,16.5 H21 M15.5,11.5 V21.5 M13,20 H18" stroke="#fff" stroke-width="1.6"/></svg>
<div class="t" id="t64" style="left:40px;top:848.65px;font-family:'Liberation Sans', sans-serif;font-size:7.5px;font-weight:normal;color:#fff;letter-spacing:0px;">YUPhL</div>
<div class="t" id="t65" style="left:40px;top:858.20px;font-family:'Liberation Sans', sans-serif;font-size:6.5px;font-weight:normal;color:#fff;letter-spacing:0px;">KARIN</div>
<div class="t" id="t66" style="left:87px;top:852.53px;font-family:'Liberation Sans', sans-serif;font-size:10px;font-weight:normal;color:#fff;letter-spacing:0px;">5</div>
<svg class="a" style="left:13px;top:883px" width="106" height="34" viewBox="0 0 106 34"><path d="M5,1 H82 L104.5,16.6 L82,32.6 H5 Q1.5,32.6 1.5,28.6 V5 Q1.5,1 5,1 Z" fill="#2063de"/></svg>
<div class="t" id="t67" style="left:32.5px;top:890.98px;font-family:'Liberation Sans', sans-serif;font-size:9px;font-weight:normal;color:#fff;letter-spacing:0px;">LSUVUL</div>
<div class="t" id="t68" style="left:32.5px;top:902.23px;font-family:'Liberation Sans', sans-serif;font-size:8px;font-weight:bold;color:#fff;letter-spacing:0px;">NSHAVAN</div>
<div class="t" id="t69" style="left:87.4px;top:896.53px;font-family:'Liberation Sans', sans-serif;font-size:10px;font-weight:normal;color:#fff;letter-spacing:0px;">5</div>
<div class="a" style="left:136.5px;top:839.8px;width:83px;height:41.7px;border:2.3px solid #111;border-radius:6px;box-sizing:border-box"></div>
<div class="a" style="left:140.3px;top:843.5999999999999px;width:75.4px;height:34.1px;border:1.9px solid #111;border-radius:2.2px;box-sizing:border-box"></div>
<div class="t" id="t70" style="left:144.5px;top:854.15px;font-family:'Liberation Sans', sans-serif;font-size:7.5px;font-weight:bold;color:#111;letter-spacing:0px;-webkit-text-stroke:0.3px #111">EPEVULJUL pnn.</div>
<div class="t" id="t71" style="left:152px;top:863.42px;font-family:'Liberation Sans', sans-serif;font-size:6px;font-weight:bold;color:#111;letter-spacing:0px;-webkit-text-stroke:0.2px #111">YEREVANYAN st.</div>
<div class="a" style="left:240.3px;top:839.8px;width:82.7px;height:42.6px;background:#2063de;border-radius:6px"></div>
<div class="a" style="left:242.3px;top:841.8px;width:78.7px;height:38.6px;border:1px solid #fff;border-radius:4px;box-sizing:border-box"></div>
<div class="t" id="t72" style="left:251.7px;top:853.38px;font-family:'Liberation Sans', sans-serif;font-size:9px;font-weight:normal;color:#fff;letter-spacing:0px;">q. PUUUh</div>
<div class="t" id="t73" style="left:251px;top:865.62px;font-family:'Liberation Serif', serif;font-size:10px;font-weight:normal;color:#fff;letter-spacing:0px;">r. KASAKH</div>
<div class="a" style="left:189px;top:891.6px;width:81.8px;height:30.8px;background:#2063de;border-radius:5px"></div>
<div class="a" style="left:191px;top:893.6px;width:77.8px;height:26.8px;border:1px solid #fff;border-radius:3px;box-sizing:border-box"></div>
<div class="t" id="t74" style="left:195.4px;top:901.50px;font-family:'Liberation Sans', sans-serif;font-size:6.5px;font-weight:normal;color:#fff;letter-spacing:0px;">ywup ZUNUUS</div>
<div class="t" id="t75" style="left:195.4px;top:908.94px;font-family:'Liberation Sans', sans-serif;font-size:5.5px;font-weight:normal;color:#fff;letter-spacing:0px;">church HAGHPAT</div>
<div class="a" style="left:344.4px;top:840px;width:84.2px;height:41.5px;background:#2063de;border-radius:5px"></div>
<div class="a" style="left:346.4px;top:842px;width:80.2px;height:37.5px;border:1px solid #fff;border-radius:3px;box-sizing:border-box"></div>
<div class="t" id="t76" style="left:351px;top:845.69px;font-family:'Liberation Sans', sans-serif;font-size:4.5px;font-weight:normal;color:#fff;letter-spacing:0px;">UEVUL</div>
<div class="t" id="t77" style="left:351px;top:850.54px;font-family:'Liberation Sans', sans-serif;font-size:3.5px;font-weight:normal;color:#dde;letter-spacing:0px;">SEVAN</div>
<div class="t" id="t78" style="left:351px;top:858.19px;font-family:'Liberation Sans', sans-serif;font-size:4.5px;font-weight:normal;color:#fff;letter-spacing:0px;">UEVUL</div>
<div class="t" id="t79" style="left:351px;top:863.04px;font-family:'Liberation Sans', sans-serif;font-size:3.5px;font-weight:normal;color:#dde;letter-spacing:0px;">SEVAN</div>
<div class="t" id="t80" style="left:351px;top:870.69px;font-family:'Liberation Sans', sans-serif;font-size:4.5px;font-weight:normal;color:#fff;letter-spacing:0px;">UEVUL</div>
<div class="t" id="t81" style="left:351px;top:875.54px;font-family:'Liberation Sans', sans-serif;font-size:3.5px;font-weight:normal;color:#dde;letter-spacing:0px;">SEVAN</div>
<div class="t" id="t82" style="left:410px;top:846.15px;font-family:'Liberation Sans', sans-serif;font-size:7.5px;font-weight:normal;color:#fff;letter-spacing:0px;">80</div>
<div class="t" id="t83" style="left:404px;top:857.65px;font-family:'Liberation Sans', sans-serif;font-size:7.5px;font-weight:normal;color:#fff;letter-spacing:0px;">100</div>
<div class="t" id="t84" style="left:404px;top:871.05px;font-family:'Liberation Sans', sans-serif;font-size:7.5px;font-weight:normal;color:#fff;letter-spacing:0px;">135</div>
<div class="a" style="left:446.3px;top:841.2px;width:80px;height:40px;border:2.2px solid #111;border-radius:6px;box-sizing:border-box"></div>
<div class="a" style="left:450.0px;top:844.9000000000001px;width:72.6px;height:32.6px;border:1.5px solid #111;border-radius:2.3px;box-sizing:border-box"></div>
<div class="t" id="t85" style="left:451px;top:853.25px;font-family:'Liberation Sans', sans-serif;font-size:7.5px;font-weight:bold;color:#111;letter-spacing:0px;">YELSPNL</div>
<div class="t" id="t86" style="left:508px;top:853.25px;font-family:'Liberation Sans', sans-serif;font-size:7.5px;font-weight:bold;color:#111;letter-spacing:0px;">12</div>
<div class="t" id="t87" style="left:451px;top:863.23px;font-family:'Liberation Sans', sans-serif;font-size:8px;font-weight:bold;color:#111;letter-spacing:0px;">UPGUVULN</div>
<div class="t" id="t88" style="left:510px;top:863.65px;font-family:'Liberation Sans', sans-serif;font-size:7.5px;font-weight:bold;color:#111;letter-spacing:0px;">15</div>
<div class="a" style="left:396.5px;top:892.4px;width:82px;height:29.5px;border:1.5px solid #111;border-radius:5px;box-sizing:border-box"></div>
<div class="a" style="left:399.2px;top:895.1px;width:76.6px;height:24.1px;border:1.6px solid #111;border-radius:2.3px;box-sizing:border-box"></div>
<svg class="a" style="left:396.5px;top:892.4px" width="82" height="29.5" viewBox="0 0 82 29.5"><rect x="7" y="6.0" width="59" height="2.6" fill="#333"/><rect x="71" y="6.0" width="5" height="2.6" fill="#333"/><rect x="7" y="11.4" width="36" height="2.6" fill="#333"/><rect x="71" y="11.4" width="5" height="2.6" fill="#333"/><rect x="7" y="16.8" width="43" height="2.6" fill="#333"/><rect x="71" y="16.8" width="5" height="2.6" fill="#333"/><rect x="7" y="22.200000000000003" width="36" height="2.6" fill="#333"/><rect x="71" y="22.200000000000003" width="5" height="2.6" fill="#333"/></svg>
<div class="a" style="left:562px;top:840px;width:52px;height:26px;background:#2063de;border-radius:3.5px"></div>
<div class="a" style="left:564px;top:842px;width:48px;height:22px;border:1px solid #fff;border-radius:1.5px;box-sizing:border-box"></div>
<div class="t" id="t89" style="left:573.8px;top:848.61px;font-family:'Liberation Sans', sans-serif;font-size:10.5px;font-weight:normal;color:#fff;letter-spacing:0px;">1125</div>
<div class="t" id="t90" style="left:200.9px;top:12.68px;font-family:'Liberation Serif', serif;font-size:16.5px;font-weight:bold;color:#111;letter-spacing:0px;">6. Sbnbkwunynipjwu uzwuubp</div>
<div class="t" id="t91" style="left:591.1px;top:1.27px;font-family:'Liberation Serif', serif;font-size:11.5px;font-weight:bold;color:#111;letter-spacing:0px;">Lkwp 7</div>
<div class="t" id="t92" style="left:50.5px;top:205.17px;font-family:'Liberation Serif', serif;font-size:11.5px;font-weight:normal;color:#111;letter-spacing:0px;-webkit-text-stroke:0.5px #111">6.1</div>
<div class="t" id="t93" style="left:15px;top:215.79px;font-family:'Liberation Serif', serif;font-size:13.5px;font-weight:normal;color:#111;letter-spacing:0px;-webkit-text-stroke:0.5px #111">Unwyblwqniju</div>
<div class="t" id="t94" style="left:19.7px;top:228.59px;font-family:'Liberation Serif', serif;font-size:13.5px;font-weight:normal;color:#111;letter-spacing:0px;-webkit-text-stroke:0.5px #111">wpwqnipjwu</div>
<div class="t" id="t95" style="left:20.6px;top:240.69px;font-family:'Liberation Serif', serif;font-size:13.5px;font-weight:normal;color:#111;letter-spacing:0px;-webkit-text-stroke:0.5px #111">punhwunip</div>
<div class="t" id="t96" style="left:3.4px;top:253.29px;font-family:'Liberation Serif', serif;font-size:13.5px;font-weight:normal;color:#111;letter-spacing:0px;-webkit-text-stroke:0.5px #111">uwhuwuwpwkniu</div>
<div class="t" id="t97" style="left:180.9px;top:129.87px;font-family:'Liberation Serif', serif;font-size:11.5px;font-weight:normal;color:#111;letter-spacing:0px;-webkit-text-stroke:0.5px #111">6.2</div>
<div class="t" id="t98" style="left:148.6px;top:140.69px;font-family:'Liberation Serif', serif;font-size:13.5px;font-weight:normal;color:#111;letter-spacing:0px;-webkit-text-stroke:0.5px #111">Unwgwpkynn</div>
<div class="t" id="t99" style="left:150px;top:152.99px;font-family:'Liberation Serif', serif;font-size:13.5px;font-weight:normal;color:#111;letter-spacing:0px;-webkit-text-stroke:0.5px #111">wpwqnipjniu</div>
<div class="t" id="t100" style="left:306.7px;top:129.87px;font-family:'Liberation Serif', serif;font-size:11.5px;font-weight:normal;color:#111;letter-spacing:0px;-webkit-text-stroke:0.5px #111">6.3.1</div>
<div class="t" id="t101" style="left:282.2px;top:140.69px;font-family:'Liberation Serif', serif;font-size:13.5px;font-weight:normal;color:#111;letter-spacing:0px;-webkit-text-stroke:0.5px #111">Zbunwnwpah</div>
<div class="t" id="t102" style="left:308.2px;top:153.19px;font-family:'Liberation Serif', serif;font-size:13.5px;font-weight:normal;color:#111;letter-spacing:0px;-webkit-text-stroke:0.5px #111">unbn</div>
<div class="t" id="t103" style="left:437.6px;top:129.87px;font-family:'Liberation Serif', serif;font-size:11.5px;font-weight:normal;color:#111;letter-spacing:0px;-webkit-text-stroke:0.5px #111">6.3.2</div>
<div class="t" id="t104" style="left:413px;top:140.69px;font-family:'Liberation Serif', serif;font-size:13.5px;font-weight:normal;color:#111;letter-spacing:0px;-webkit-text-stroke:0.5px #111">Zbunwnwpah</div>
<div class="t" id="t105" style="left:437.6px;top:153.19px;font-family:'Liberation Serif', serif;font-size:13.5px;font-weight:normal;color:#111;letter-spacing:0px;-webkit-text-stroke:0.5px #111">qnunh</div>
<div class="t" id="t106" style="left:573.7px;top:129.87px;font-family:'Liberation Serif', serif;font-size:11.5px;font-weight:normal;color:#111;letter-spacing:0px;-webkit-text-stroke:0.5px #111">6.4</div>
<div class="t" id="t107" style="left:548.5px;top:140.69px;font-family:'Liberation Serif', serif;font-size:13.5px;font-weight:normal;color:#111;letter-spacing:0px;-webkit-text-stroke:0.5px #111">Ywjwuuwu</div>
<div class="t" id="t108" style="left:573px;top:153.19px;font-family:'Liberation Serif', serif;font-size:13.5px;font-weight:normal;color:#111;letter-spacing:0px;-webkit-text-stroke:0.5px #111">unbn</div>
<div class="t" id="t109" style="left:229.6px;top:260.07px;font-family:'Liberation Serif', serif;font-size:11.5px;font-weight:normal;color:#111;letter-spacing:0px;-webkit-text-stroke:0.5px #111">6.5</div>
<div class="t" id="t110" style="left:205.3px;top:271.49px;font-family:'Liberation Serif', serif;font-size:13.5px;font-weight:normal;color:#111;letter-spacing:0px;-webkit-text-stroke:0.5px #111">Vpwpwjhu</div>
<div class="t" id="t111" style="left:190.3px;top:283.69px;font-family:'Liberation Serif', serif;font-size:13.5px;font-weight:normal;color:#111;letter-spacing:0px;-webkit-text-stroke:0.5px #111">kwuqwnh qnunh</div>
<div class="t" id="t112" style="left:405px;top:259.87px;font-family:'Liberation Serif', serif;font-size:11.5px;font-weight:normal;color:#111;letter-spacing:0px;-webkit-text-stroke:0.5px #111">6.6</div>
<div class="t" id="t113" style="left:371px;top:270.19px;font-family:'Liberation Serif', serif;font-size:13.5px;font-weight:normal;color:#111;letter-spacing:0px;-webkit-text-stroke:0.5px #111">Uunnpqbunujw</div>
<div class="t" id="t114" style="left:371px;top:282.29px;font-family:'Liberation Serif', serif;font-size:13.5px;font-weight:normal;color:#111;letter-spacing:0px;-webkit-text-stroke:0.5px #111">hbunhnunuwjhu</div>
<div class="t" id="t115" style="left:388.5px;top:294.19px;font-family:'Liberation Serif', serif;font-size:13.5px;font-weight:normal;color:#111;letter-spacing:0px;-webkit-text-stroke:0.5px #111">wugniu</div>
<div class="t" id="t116" style="left:575.7px;top:259.87px;font-family:'Liberation Serif', serif;font-size:11.5px;font-weight:normal;color:#111;letter-spacing:0px;-webkit-text-stroke:0.5px #111">6.7</div>
<div class="t" id="t117" style="left:544px;top:270.19px;font-family:'Liberation Serif', serif;font-size:13.5px;font-weight:normal;color:#111;letter-spacing:0px;-webkit-text-stroke:0.5px #111">Vbpqbunujw</div>
<div class="t" id="t118" style="left:537.5px;top:282.29px;font-family:'Liberation Serif', serif;font-size:13.5px;font-weight:normal;color:#111;letter-spacing:0px;-webkit-text-stroke:0.5px #111">hbunhnunuwjhu</div>
<div class="t" id="t119" style="left:559.5px;top:294.19px;font-family:'Liberation Serif', serif;font-size:13.5px;font-weight:normal;color:#111;letter-spacing:0px;-webkit-text-stroke:0.5px #111">wugniu</div>
<div class="t" id="t120" style="left:47.2px;top:408.97px;font-family:'Liberation Serif', serif;font-size:11.5px;font-weight:normal;color:#111;letter-spacing:0px;-webkit-text-stroke:0.5px #111">6.8.1</div>
<div class="t" id="t121" style="left:148.8px;top:408.97px;font-family:'Liberation Serif', serif;font-size:11.5px;font-weight:normal;color:#111;letter-spacing:0px;-webkit-text-stroke:0.5px #111">6.8.2</div>
<div class="t" id="t122" style="left:98.4px;top:508.37px;font-family:'Liberation Serif', serif;font-size:11.5px;font-weight:normal;color:#111;letter-spacing:0px;-webkit-text-stroke:0.5px #111">6.8.3</div>
<div class="t" id="t123" style="left:84.4px;top:521.29px;font-family:'Liberation Serif', serif;font-size:13.5px;font-weight:normal;color:#111;letter-spacing:0px;-webkit-text-stroke:0.5px #111">Pwkninh</div>
<div class="t" id="t124" style="left:411.8px;top:462.07px;font-family:'Liberation Serif', serif;font-size:11.5px;font-weight:normal;color:#111;letter-spacing:0px;-webkit-text-stroke:0.5px #111">6.9.1</div>
<div class="t" id="t125" style="left:316.7px;top:471.69px;font-family:'Liberation Serif', serif;font-size:13.5px;font-weight:normal;color:#111;letter-spacing:0px;-webkit-text-stroke:0.5px #111">Ninnnipjniuubph uwluuwkwu gnighz</div>
<div class="t" id="t126" style="left:240.4px;top:661.87px;font-family:'Liberation Serif', serif;font-size:11.5px;font-weight:normal;color:#111;letter-spacing:0px;-webkit-text-stroke:0.5px #111">6.9.1</div>
<div class="t" id="t127" style="left:143.6px;top:672.69px;font-family:'Liberation Serif', serif;font-size:13.5px;font-weight:normal;color:#111;letter-spacing:0px;-webkit-text-stroke:0.5px #111">Ninnnipjniuubph uwluuwkwu gnighz</div>
<div class="t" id="t128" style="left:40.2px;top:788.17px;font-family:'Liberation Serif', serif;font-size:11.5px;font-weight:normal;color:#111;letter-spacing:0px;-webkit-text-stroke:0.5px #111">6.9.3</div>
<div class="t" id="t129" style="left:7.5px;top:798.29px;font-family:'Liberation Serif', serif;font-size:13.5px;font-weight:normal;color:#111;letter-spacing:0px;-webkit-text-stroke:0.5px #111">Epplbknipjwu</div>
<div class="t" id="t130" style="left:31.8px;top:810.29px;font-family:'Liberation Serif', serif;font-size:13.5px;font-weight:normal;color:#111;letter-spacing:0px;-webkit-text-stroke:0.5px #111">ulubuw</div>
<div class="t" id="t131" style="left:302.5px;top:801.37px;font-family:'Liberation Serif', serif;font-size:11.5px;font-weight:normal;color:#111;letter-spacing:0px;-webkit-text-stroke:0.5px #111">6.10.1</div>
<div class="t" id="t132" style="left:247.4px;top:811.59px;font-family:'Liberation Serif', serif;font-size:13.5px;font-weight:normal;color:#111;letter-spacing:0px;-webkit-text-stroke:0.5px #111">Ninnnipjniuubph gnighz</div>
<div class="t" id="t133" style="left:557px;top:699.87px;font-family:'Liberation Serif', serif;font-size:11.5px;font-weight:normal;color:#111;letter-spacing:0px;-webkit-text-stroke:0.5px #111">6.9.2</div>
<div class="t" id="t134" style="left:535.8px;top:710.29px;font-family:'Liberation Serif', serif;font-size:13.5px;font-weight:normal;color:#111;letter-spacing:0px;-webkit-text-stroke:0.5px #111">Ninnnipjwu</div>
<div class="t" id="t135" style="left:513.5px;top:722.39px;font-family:'Liberation Serif', serif;font-size:13.5px;font-weight:normal;color:#111;letter-spacing:0px;-webkit-text-stroke:0.5px #111">uwluuwkwu gnighz</div>
<div class="t" id="t136" style="left:39.3px;top:921.87px;font-family:'Liberation Serif', serif;font-size:11.5px;font-weight:normal;color:#111;letter-spacing:0px;-webkit-text-stroke:0.5px #111">6.10.2</div>
<div class="t" id="t137" style="left:18.7px;top:932.69px;font-family:'Liberation Serif', serif;font-size:13.5px;font-weight:normal;color:#111;letter-spacing:0px;-webkit-text-stroke:0.5px #111">Ninnnipjwu</div>
<div class="t" id="t138" style="left:36.5px;top:945.29px;font-family:'Liberation Serif', serif;font-size:13.5px;font-weight:normal;color:#111;letter-spacing:0px;-webkit-text-stroke:0.5px #111">gnighz</div>
<div class="t" id="t139" style="left:217.9px;top:933.27px;font-family:'Liberation Serif', serif;font-size:11.5px;font-weight:normal;color:#111;letter-spacing:0px;-webkit-text-stroke:0.5px #111">6.11</div>
<div class="t" id="t140" style="left:168.7px;top:943.69px;font-family:'Liberation Serif', serif;font-size:13.5px;font-weight:normal;color:#111;letter-spacing:0px;-webkit-text-stroke:0.5px #111">Opjbkunh wuywuniu</div>
<div class="t" id="t141" style="left:424.6px;top:932.67px;font-family:'Liberation Serif', serif;font-size:11.5px;font-weight:normal;color:#111;letter-spacing:0px;-webkit-text-stroke:0.5px #111">6.12</div>
<div class="t" id="t142" style="left:383px;top:943.59px;font-family:'Liberation Serif', serif;font-size:13.5px;font-weight:normal;color:#111;letter-spacing:0px;-webkit-text-stroke:0.5px #111">Zbnwynpnipjniuubph</div>
<div class="t" id="t143" style="left:417.5px;top:955.29px;font-family:'Liberation Serif', serif;font-size:13.5px;font-weight:normal;color:#111;letter-spacing:0px;-webkit-text-stroke:0.5px #111">gnighz</div>
<div class="t" id="t144" style="left:575.5px;top:873.57px;font-family:'Liberation Serif', serif;font-size:11.5px;font-weight:normal;color:#111;letter-spacing:0px;-webkit-text-stroke:0.5px #111">6.13</div>
<div class="t" id="t145" style="left:542.4px;top:884.29px;font-family:'Liberation Serif', serif;font-size:13.5px;font-weight:normal;color:#111;letter-spacing:0px;-webkit-text-stroke:0.5px #111">Yhlnubunpwjhu</div>
<div class="t" id="t146" style="left:574.7px;top:897.49px;font-family:'Liberation Serif', serif;font-size:13.5px;font-weight:normal;color:#111;letter-spacing:0px;-webkit-text-stroke:0.5px #111">uzwu</div>
</div></body></html>
